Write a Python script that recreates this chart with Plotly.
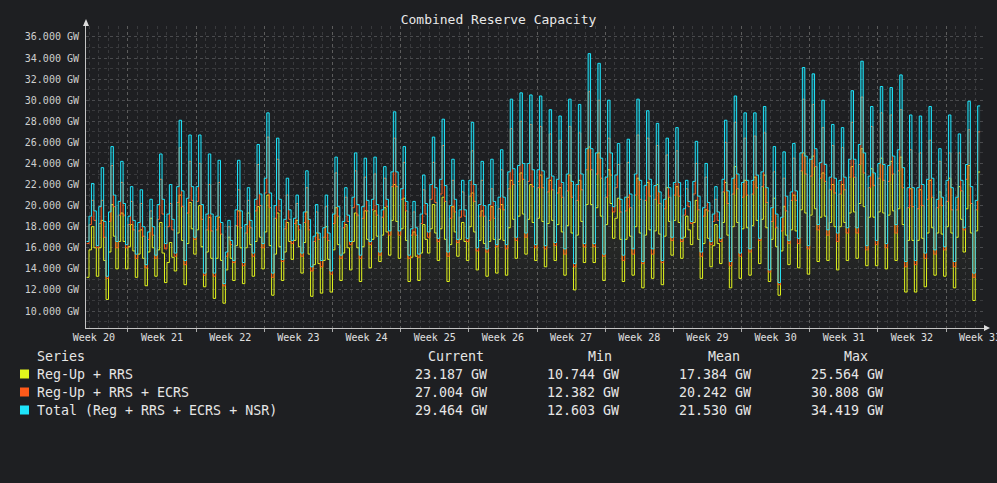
import numpy as np
import plotly.graph_objects as go

# Reserve capacity, GW, 6-hourly samples (rise, peak, fall, trough per day)
# first value is the trough just before day 0, last value is the final reading
reg_rrs = [
    13.2,
    15.8, 18.0, 16.0, 13.3,   16.0, 18.6, 14.8, 11.1,   15.6, 20.1, 17.1, 14.0,   16.6, 19.3, 16.6, 14.0,
    16.1, 18.2, 15.7, 13.2,   15.4, 17.7, 15.0, 12.4,   15.6, 18.8, 16.0, 13.3,   15.8, 18.4, 15.5, 12.7,
    14.6, 16.5, 15.1, 13.8,   17.4, 21.0, 16.7, 12.5,   16.4, 20.3, 17.8, 15.4,   17.7, 20.0, 16.1, 12.3,
    15.6, 18.9, 15.0, 11.2,   15.0, 18.9, 14.8, 10.744, 13.9, 17.0, 15.0, 12.9,   16.2, 19.5, 16.0, 12.6,
    16.0, 19.3, 16.3, 13.3,   16.6, 19.9, 17.0, 14.0,   17.5, 21.0, 16.2, 11.5,   15.4, 19.3, 16.1, 12.9,
    15.6, 18.4, 16.6, 14.9,   16.7, 18.6, 16.1, 13.6,   16.5, 19.4, 15.4, 11.4,   14.4, 17.4, 14.5, 11.7,
    14.8, 18.0, 14.9, 11.8,   15.8, 19.8, 16.3, 12.9,   15.5, 18.2, 16.0, 13.9,   16.6, 19.3, 16.0, 12.8,
    16.1, 19.5, 16.8, 14.1,   16.8, 19.5, 17.1, 14.7,   17.2, 19.8, 17.5, 15.3,   18.6, 22.0, 18.5, 15.0,
    17.8, 20.7, 16.7, 12.8,   15.1, 17.5, 15.2, 12.9,   15.5, 18.2, 16.8, 15.5,   17.8, 20.1, 17.4, 14.8,
    17.8, 20.8, 16.8, 12.8,   16.3, 19.9, 17.5, 15.2,   16.8, 18.4, 16.6, 14.8,   18.0, 21.2, 17.5, 13.9,
    16.7, 19.5, 16.4, 13.3,   16.6, 19.9, 16.8, 13.6,   16.8, 20.1, 16.7, 13.4,   17.9, 22.4, 18.7, 15.0,
    19.0, 23.1, 19.2, 15.4,   18.7, 22.0, 18.4, 14.8,   18.8, 22.9, 18.5, 14.2,   18.3, 22.4, 18.6, 14.8,
    18.2, 21.7, 17.5, 13.4,   18.1, 22.9, 17.4, 12.0,   17.2, 22.4, 18.5, 14.6,   20.1, 25.564, 20.1, 14.6,
    19.8, 25.0, 19.0, 12.9,   18.2, 23.4, 20.2, 16.9,   18.8, 20.7, 16.8, 12.8,   16.8, 20.8, 17.1, 13.4,
    18.0, 22.6, 17.4, 12.2,   17.2, 22.2, 17.7, 13.1,   17.6, 22.0, 17.3, 12.5,   17.1, 21.7, 18.5, 15.3,
    18.6, 21.8, 18.4, 15.0,   17.0, 19.0, 17.7, 16.3,   18.4, 20.5, 16.8, 13.1,   16.4, 19.6, 16.9, 14.2,
    16.2, 18.2, 16.4, 14.5,   18.4, 22.2, 17.2, 12.2,   18.0, 23.7, 18.4, 13.1,   17.8, 22.4, 17.9, 13.4,
    18.1, 22.7, 18.6, 14.5,   18.7, 22.9, 17.9, 12.8,   16.8, 20.7, 16.1, 11.5,   15.7, 19.9, 17.2, 14.4,
    17.7, 21.0, 17.6, 14.1,   19.6, 25.0, 19.3, 13.5,   19.1, 24.7, 19.7, 14.7,   18.9, 23.1, 19.0, 14.8,
    18.4, 22.0, 18.0, 13.9,   18.0, 22.0, 18.4, 14.8,   19.3, 23.7, 19.4, 15.0,   20.2, 25.4, 19.9, 14.3,
    18.9, 23.5, 18.9, 14.3,   19.4, 24.5, 19.3, 14.0,   19.1, 24.2, 19.5, 14.8,   19.7, 24.6, 18.2, 11.8,
    16.7, 21.6, 16.7, 11.8,   16.7, 21.5, 16.9, 12.3,   17.4, 22.4, 17.9, 13.4,   17.4, 21.3, 17.3, 13.3,
    18.0, 22.6, 17.4, 12.2,   17.0, 21.8, 18.7, 15.6,   19.7, 23.8, 17.4, 11.0,
    17.6, 23.19, 23.187,
]

reg_rrs_ecrs = [
    16.4,
    18.2, 20.5, 18.6, 16.0,   18.3, 20.5, 17.0, 13.1,   18.5, 23.8, 19.9, 16.0,   19.1, 22.2, 19.1, 16.0,
    18.2, 20.4, 17.7, 15.0,   17.6, 20.2, 17.1, 14.1,   16.8, 19.5, 17.2, 15.0,   18.7, 22.5, 19.2, 15.9,
    18.0, 20.2, 17.7, 15.2,   20.3, 25.5, 19.9, 14.4,   19.3, 24.2, 20.5, 16.8,   20.4, 24.0, 18.7, 13.4,
    17.7, 22.0, 17.6, 13.3,   17.7, 22.2, 17.3, 12.382, 15.2, 18.0, 16.3, 14.6,   18.1, 21.5, 17.9, 14.3,
    17.4, 20.5, 17.9, 15.2,   19.5, 23.9, 20.0, 16.0,   21.2, 26.5, 19.8, 13.2,   18.8, 24.4, 19.5, 14.7,
    17.8, 21.0, 18.7, 16.4,   18.3, 20.2, 17.7, 15.2,   18.4, 21.7, 17.7, 13.8,   16.6, 19.4, 16.8, 14.2,
    17.0, 19.9, 16.7, 13.5,   18.3, 23.1, 19.0, 15.0,   17.9, 20.8, 18.5, 16.3,   19.8, 23.3, 19.1, 15.0,
    18.8, 22.7, 19.5, 16.3,   19.6, 23.0, 19.1, 15.3,   18.9, 22.6, 19.9, 17.2,   21.8, 26.4, 21.8, 17.2,
    20.6, 24.1, 19.5, 15.0,   17.2, 19.4, 17.2, 15.1,   18.3, 21.5, 19.2, 17.0,   20.6, 24.1, 20.3, 16.6,
    21.1, 25.7, 20.4, 15.2,   18.8, 22.4, 19.4, 16.5,   18.9, 21.3, 19.0, 16.6,   20.9, 25.2, 20.4, 15.7,
    19.0, 22.4, 19.0, 15.6,   18.6, 21.6, 18.8, 16.1,   19.7, 23.4, 19.6, 15.9,   21.6, 27.3, 22.0, 16.7,
    22.3, 28.0, 22.5, 17.0,   22.3, 27.7, 21.8, 16.0,   21.7, 27.5, 21.7, 15.9,   21.3, 26.8, 21.5, 16.2,
    21.2, 26.2, 20.8, 15.4,   21.4, 27.5, 20.8, 14.2,   20.5, 26.9, 21.5, 16.1,   23.4, 30.808, 23.4, 16.1,
    23.0, 30.0, 22.6, 15.2,   20.8, 26.4, 22.9, 19.4,   21.7, 23.9, 19.4, 14.8,   19.5, 24.1, 19.8, 15.4,
    21.0, 26.7, 20.6, 14.5,   20.5, 26.4, 20.9, 15.4,   20.6, 25.7, 20.2, 14.6,   19.7, 24.8, 20.8, 16.7,
    21.0, 25.2, 20.9, 16.6,   19.1, 21.6, 19.9, 18.3,   21.1, 24.0, 19.6, 15.2,   19.0, 22.7, 19.5, 16.3,
    18.5, 20.6, 18.6, 16.6,   21.3, 26.0, 20.2, 14.3,   21.1, 27.9, 21.6, 15.2,   20.8, 26.4, 21.0, 15.6,
    21.1, 26.6, 21.7, 16.7,   21.8, 26.9, 20.3, 13.7,   18.5, 23.2, 17.9, 12.5,   17.6, 22.6, 19.5, 16.4,
    20.5, 24.5, 20.5, 16.4,   23.3, 30.1, 23.0, 15.9,   22.8, 29.6, 23.7, 17.7,   22.6, 27.4, 22.3, 17.2,
    21.5, 25.7, 21.2, 16.6,   21.1, 25.5, 21.5, 17.4,   22.7, 27.9, 22.7, 17.4,   23.9, 30.3, 23.1, 15.8,
    21.7, 27.5, 21.9, 16.3,   22.6, 28.8, 22.4, 16.0,   22.3, 28.6, 23.0, 17.4,   23.3, 29.1, 21.7, 14.2,
    19.8, 25.3, 19.9, 14.4,   19.7, 25.0, 20.0, 15.0,   20.6, 26.2, 20.8, 15.4,   19.8, 24.2, 20.0, 15.8,
    20.4, 25.0, 19.6, 14.2,   19.6, 25.0, 21.4, 17.7,   22.5, 27.2, 20.2, 13.2,
    19.6, 27.0, 27.004,
]

total = [
    16.6,
    19.0, 22.1, 19.5, 16.2,   19.9, 23.6, 18.5, 13.3,   19.4, 25.6, 21.0, 16.6,   20.4, 24.2, 20.2, 16.3,
    19.0, 21.8, 18.6, 15.4,   18.4, 21.5, 18.0, 14.4,   17.5, 20.6, 18.0, 15.3,   20.1, 24.9, 20.6, 16.4,
    19.2, 22.0, 18.7, 15.5,   21.8, 28.1, 21.4, 14.8,   20.7, 26.7, 21.8, 17.0,   21.8, 26.7, 20.1, 13.6,
    19.2, 24.9, 19.2, 13.6,   19.0, 24.3, 18.4, 12.603, 15.6, 18.6, 16.7, 14.8,   19.6, 24.3, 19.5, 14.6,
    18.2, 21.7, 18.6, 15.5,   20.6, 25.8, 21.1, 16.4,   22.6, 28.8, 21.2, 13.6,   20.0, 26.4, 20.6, 14.9,
    18.7, 22.6, 19.6, 16.7,   18.8, 21.0, 18.2, 15.5,   19.4, 23.3, 18.7, 14.2,   17.1, 20.1, 17.4, 14.8,
    17.9, 21.0, 17.4, 13.8,   19.2, 24.6, 19.9, 15.3,   18.5, 21.7, 19.1, 16.6,   20.8, 25.0, 20.1, 15.3,
    19.9, 24.5, 20.5, 16.6,   20.6, 24.6, 20.1, 15.6,   19.6, 23.7, 20.6, 17.6,   23.2, 28.9, 23.2, 17.6,
    21.6, 25.6, 20.4, 15.3,   17.8, 20.4, 17.9, 15.4,   19.2, 22.9, 20.2, 17.5,   22.0, 26.5, 21.7, 16.9,
    22.5, 28.2, 21.9, 15.6,   20.0, 24.4, 20.6, 16.8,   19.6, 22.4, 19.6, 16.9,   22.4, 27.9, 22.0, 16.0,
    20.1, 24.2, 20.0, 15.9,   20.1, 24.4, 20.4, 16.3,   20.8, 25.3, 20.8, 16.3,   23.2, 30.1, 23.5, 17.0,
    23.8, 30.7, 24.0, 17.4,   24.0, 30.5, 23.4, 16.3,   23.4, 30.4, 23.3, 16.2,   22.6, 29.1, 22.8, 16.5,
    22.5, 28.5, 22.2, 15.9,   23.0, 30.1, 22.3, 14.5,   22.0, 29.6, 23.0, 16.4,   25.4, 34.419, 25.4, 16.4,
    25.0, 33.5, 24.5, 15.4,   22.7, 30.0, 25.0, 19.9,   22.9, 25.9, 20.6, 15.3,   20.8, 26.3, 21.1, 15.9,
    23.0, 30.1, 22.4, 14.7,   21.9, 29.0, 22.5, 15.9,   21.9, 27.8, 21.3, 14.8,   20.6, 26.4, 21.7, 17.0,
    22.2, 27.4, 22.2, 16.9,   19.7, 22.4, 20.4, 18.5,   22.3, 26.1, 20.9, 15.6,   19.8, 24.0, 20.3, 16.6,
    19.2, 21.8, 19.4, 16.9,   22.5, 28.1, 21.4, 14.7,   22.6, 30.4, 23.0, 15.5,   22.2, 28.8, 22.4, 15.9,
    22.4, 28.8, 22.9, 16.9,   23.2, 29.4, 21.7, 13.9,   19.8, 25.6, 19.2, 12.7,   18.9, 25.1, 20.9, 16.7,
    21.3, 25.9, 21.4, 16.9,   25.0, 33.1, 24.7, 16.2,   24.4, 32.5, 25.4, 18.2,   24.1, 30.0, 23.9, 17.7,
    22.7, 27.7, 22.6, 17.4,   22.4, 27.4, 22.7, 17.9,   24.4, 30.9, 24.4, 17.9,   25.8, 33.7, 25.0, 16.2,
    22.8, 29.4, 23.1, 16.7,   24.0, 31.3, 23.9, 16.4,   23.8, 31.2, 24.7, 18.2,   25.3, 32.4, 23.6, 14.7,
    21.7, 28.6, 21.7, 14.8,   21.7, 28.5, 22.0, 15.5,   22.5, 29.4, 22.6, 15.8,   20.6, 25.4, 20.8, 16.1,
    22.4, 28.6, 21.7, 14.7,   20.8, 26.8, 22.4, 17.9,   23.9, 29.9, 21.8, 13.6,
    20.5, 29.46, 29.464,
]

series_names = ["Reg-Up + RRS", "Reg-Up + RRS + ECRS", "Total (Reg + RRS + ECRS + NSR)"]
series_colors = ["#e2f51c", "#ff5a1a", "#1ee4fa"]
stat_current = ["23.187 GW", "27.004 GW", "29.464 GW"]
stat_min = ["10.744 GW", "12.382 GW", "12.603 GW"]
stat_mean = ["17.384 GW", "20.242 GW", "21.530 GW"]
stat_max = ["25.564 GW", "30.808 GW", "34.419 GW"]

week_labels = ["Week %d" % w for w in range(20, 34)]
week_centers = [0.5 + 7 * i for i in range(len(week_labels))]  # day index of mid-week

BG = "#1e1f22"
FONT = "DejaVu Sans Mono"
XRANGE = [-0.31, 91.9]
LEG_SIZE = 13.3

# pixel helpers for the plot area (l=86, r=13, t=26, b=155 on 997x483)
L, R, T, B, W, H = 86, 13, 26, 155, 997, 483
PW, PH = W - L - R, H - T - B


def px(x):
    return (x - L) / PW


def py(y):
    return (H - B - y) / PH


def rgba(hexc, a):
    h = hexc.lstrip("#")
    return "rgba(%d,%d,%d,%.2f)" % (int(h[0:2], 16), int(h[2:4], 16), int(h[4:6], 16), a)


fig = go.Figure()

# total goes on the overlay axis (week labels) so it is drawn on top
axes = ["x", "x", "x2"]
for name, vals, color, xa in zip(series_names, [reg_rrs, reg_rrs_ecrs, total], series_colors, axes):
    t = -0.25 + 0.25 * np.arange(len(vals))  # days, 6 h steps
    fig.add_trace(go.Scatter(
        x=t, y=vals, name=name, mode="lines", xaxis=xa, yaxis="y",
        line=dict(color=color, width=1, shape="hv"),
        fill="tozeroy",
        fillgradient=dict(
            type="vertical", start=11, stop=34,
            colorscale=[[0, rgba(color, 0.0)], [0.5, rgba(color, 0.035)], [1, rgba(color, 0.27)]],
        ),
        hovertemplate="%{y:.3f} GW<extra>" + name + "</extra>",
    ))

fig.update_layout(
    width=W, height=H,
    paper_bgcolor=BG, plot_bgcolor=BG,
    margin=dict(l=L, r=R, t=T, b=B, autoexpand=False),
    showlegend=False,
    font=dict(family=FONT, color="#d0d0d0", size=10),
    title=dict(text="Combined Reserve Capacity", x=0.5, xanchor="center",
               y=1 - 19 / H, yanchor="middle", font=dict(size=13, color="#e8e8e8")),
    xaxis=dict(
        range=XRANGE, tickmode="linear", tick0=4, dtick=7, automargin=False,
        showticklabels=False, ticks="outside", ticklen=3, tickcolor="#aaaaaa",
        showgrid=True, gridcolor="#5c5c5c", griddash="dot", gridwidth=1,
        minor=dict(tick0=4, dtick=1, showgrid=True, gridcolor="#393a3d", griddash="dot"),
        showline=True, linecolor="#c4c4c4", linewidth=1, zeroline=False,
    ),
    xaxis2=dict(
        overlaying="x", anchor="y", side="bottom", range=XRANGE, automargin=False,
        tickmode="array", tickvals=week_centers, ticktext=week_labels,
        showgrid=False, ticks="", showline=False, zeroline=False,
        ticklabeloverflow="allow", ticklabelstandoff=2,
        tickfont=dict(size=10, color="#e0e0e0"),
    ),
    yaxis=dict(
        range=[8.39, 37.04], tickmode="linear", tick0=10, dtick=2, automargin=False,
        tickformat=".3f", ticksuffix=" GW", tickfont=dict(size=10, color="#cfcfcf"),
        showgrid=True, gridcolor="#4a4b4e", griddash="dot", gridwidth=1,
        minor=dict(dtick=1, showgrid=True, gridcolor="#393a3d", griddash="dot"),
        showline=True, linecolor="#c4c4c4", linewidth=1, zeroline=False,
        ticks="", ticklabelstandoff=4,
    ),
)

# axis arrow heads
fig.add_shape(type="path", xref="paper", yref="paper", layer="above",
              path="M %f %f L %f %f L %f %f Z" % (px(83), py(26), px(89), py(26), px(86), py(19)),
              fillcolor="#dddddd", line=dict(width=0))
fig.add_shape(type="path", xref="paper", yref="paper", layer="above",
              path="M %f %f L %f %f L %f %f Z" % (px(984), py(325), px(984), py(331), px(990), py(328)),
              fillcolor="#dddddd", line=dict(width=0))

# legend table below the plot
col_right = [489, 621, 753, 885]
head_center = [456, 600, 724, 856]
headers = ["Current", "Min", "Mean", "Max"]
row_y = [374, 392, 410]

fig.add_annotation(x=px(35), y=py(356), xref="paper", yref="paper", text="Series",
                   showarrow=False, xanchor="left", yanchor="middle",
                   font=dict(size=LEG_SIZE, color="#e6e6e6"))
for hc, htxt in zip(head_center, headers):
    fig.add_annotation(x=px(hc), y=py(356), xref="paper", yref="paper", text=htxt,
                       showarrow=False, xanchor="center", yanchor="middle",
                       font=dict(size=LEG_SIZE, color="#e6e6e6"))

for i, name in enumerate(series_names):
    yy = row_y[i]
    fig.add_shape(type="rect", xref="paper", yref="paper",
                  x0=px(20), x1=px(29), y0=py(yy - 4.5), y1=py(yy + 4.5),
                  fillcolor=series_colors[i], line=dict(width=0))
    fig.add_annotation(x=px(35), y=py(yy), xref="paper", yref="paper", text=name,
                       showarrow=False, xanchor="left", yanchor="middle",
                       font=dict(size=LEG_SIZE, color="#e6e6e6"))
    for cr, col in zip(col_right, [stat_current, stat_min, stat_mean, stat_max]):
        fig.add_annotation(x=px(cr), y=py(yy), xref="paper", yref="paper", text=col[i],
                           showarrow=False, xanchor="right", yanchor="middle",
                           font=dict(size=LEG_SIZE, color="#e6e6e6"))

fig.write_html("out.html",
               config={"displayModeBar": False},
               post_script="document.body.style.margin='0';"
                           "document.body.style.background='%s';" % BG)
